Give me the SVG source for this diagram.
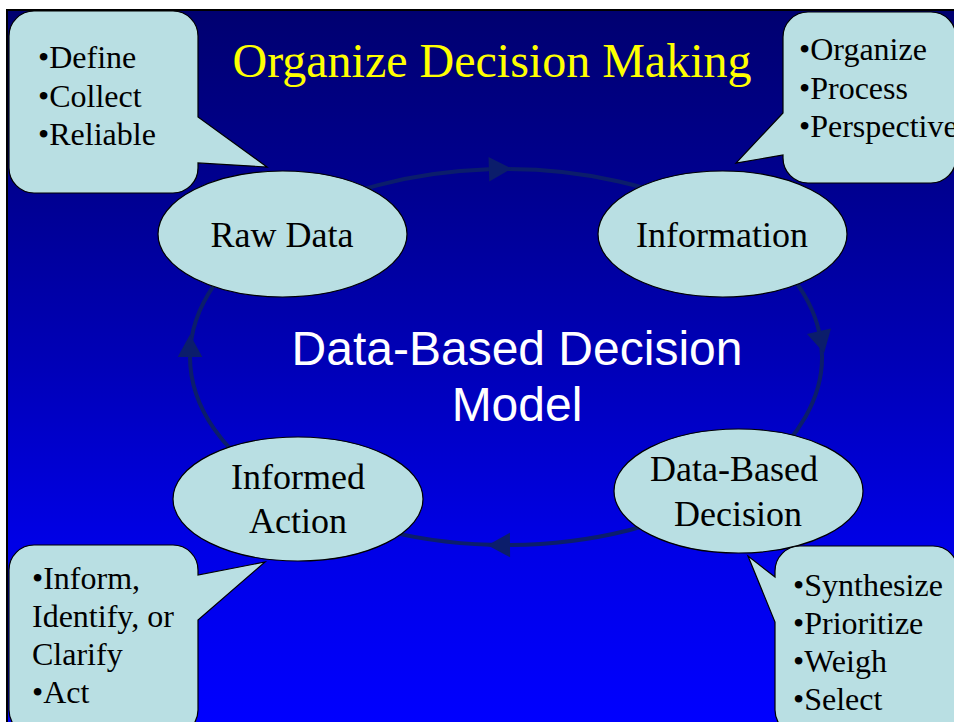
<svg xmlns="http://www.w3.org/2000/svg" width="954" height="722" viewBox="0 0 954 722">
<defs>
<linearGradient id="bg" x1="0" y1="10" x2="0" y2="722" gradientUnits="userSpaceOnUse">
<stop offset="0" stop-color="#000070"/>
<stop offset="0.25" stop-color="#000090"/>
<stop offset="0.5" stop-color="#0000b8"/>
<stop offset="0.75" stop-color="#0000e6"/>
<stop offset="1" stop-color="#0000ff"/>
</linearGradient>
<marker id="arr" markerUnits="userSpaceOnUse" markerWidth="30" markerHeight="30" viewBox="-2 -14 28 28" refX="0" refY="0" orient="auto">
<path d="M0,-11.5 L21,0 L0,11.5 Z" fill="#0b1d6b"/>
</marker>
<style>
.node{fill:#b9dfe3;stroke:#000;stroke-width:1.2}
.call{fill:#b9dfe3;stroke:#000;stroke-width:1.2}
.lbl{font-family:"Liberation Serif","Times New Roman",serif;font-size:36px;fill:#000;text-anchor:middle}
.bul{font-family:"Liberation Serif","Times New Roman",serif;font-size:32px;fill:#000}
.conn{fill:none;stroke:#0b1d6b;stroke-width:4;marker-mid:url(#arr)}
</style>
</defs>
<rect x="0" y="0" width="954" height="722" fill="#fff"/>
<rect x="7" y="10" width="960" height="730" fill="url(#bg)" stroke="#000" stroke-width="2"/>
<text x="492" y="77" font-family="Liberation Serif, Times New Roman, serif" font-size="48" fill="#ffff00" text-anchor="middle">Organize Decision Making</text>
<g id="connectors">
<path class="conn" d="M282.6,224.1 A316,188 0 0 1 488.9,169.3 A316,188 0 0 1 729.4,224.1"/>
<path class="conn" d="M729.4,224.1 A316,188 0 0 1 819,331.2 A316,188 0 0 1 729.4,489.9"/>
<path class="conn" d="M729.4,489.9 A316,188 0 0 1 510,545 A316,188 0 0 1 282.6,489.9"/>
<path class="conn" d="M282.6,489.9 A316,188 0 0 1 190,357 A316,188 0 0 1 282.6,224.1"/>
</g>
<g id="center-label">
<text x="517" y="365" font-family="Liberation Sans, Arial, sans-serif" font-size="48" fill="#fff" text-anchor="middle">Data-Based Decision</text>
<text x="517" y="421" font-family="Liberation Sans, Arial, sans-serif" font-size="48" fill="#fff" text-anchor="middle">Model</text>
</g>
<g id="raw-data">
<ellipse class="node" cx="282.5" cy="234" rx="124.5" ry="63"/>
<text class="lbl" x="282" y="247">Raw Data</text>
</g>
<g id="information">
<ellipse class="node" cx="722.5" cy="234" rx="124.5" ry="63"/>
<text class="lbl" x="722" y="247">Information</text>
</g>
<g id="data-based-decision">
<ellipse class="node" cx="738.5" cy="491" rx="124.5" ry="62"/>
<text class="lbl" x="734" y="481">Data-Based</text>
<text class="lbl" x="738" y="526">Decision</text>
</g>
<g id="informed-action">
<ellipse class="node" cx="298" cy="499" rx="125" ry="62"/>
<text class="lbl" x="298" y="489">Informed</text>
<text class="lbl" x="298" y="533">Action</text>
</g>
<g id="callout-raw-data">
<path class="call" d="M34,11 H173 A25,25 0 0 1 198,36 V117 L267,167 L198,163 V168 A25,25 0 0 1 173,193 H34 A25,25 0 0 1 9,168 V36 A25,25 0 0 1 34,11 Z"/>
<text class="bul" x="38" y="68">•Define</text>
<text class="bul" x="38" y="107">•Collect</text>
<text class="bul" x="38" y="145">•Reliable</text>
</g>
<g id="callout-information">
<path class="call" d="M808,12 H931 A25,25 0 0 1 956,37 V158 A25,25 0 0 1 931,183 H808 A25,25 0 0 1 783,158 V155 L736,163 L783,113 V37 A25,25 0 0 1 808,12 Z"/>
<text class="bul" x="799" y="60">•Organize</text>
<text class="bul" x="799" y="99">•Process</text>
<text class="bul" x="799" y="137">•Perspective</text>
</g>
<g id="callout-informed-action">
<path class="call" d="M34,545 H173 A25,25 0 0 1 198,570 V575 L265,562 L198,620 V710 A25,25 0 0 1 173,735 H34 A25,25 0 0 1 9,710 V570 A25,25 0 0 1 34,545 Z"/>
<text class="bul" x="32" y="589">•Inform,</text>
<text class="bul" x="32" y="627">Identify, or</text>
<text class="bul" x="32" y="665">Clarify</text>
<text class="bul" x="32" y="703">•Act</text>
</g>
<g id="callout-decision">
<path class="call" d="M800,546 H933 A25,25 0 0 1 958,571 V710 A25,25 0 0 1 933,735 H800 A25,25 0 0 1 775,710 V622 L748,556 L775,577 V571 A25,25 0 0 1 800,546 Z"/>
<text class="bul" x="793" y="596">•Synthesize</text>
<text class="bul" x="793" y="634">•Prioritize</text>
<text class="bul" x="793" y="672">•Weigh</text>
<text class="bul" x="793" y="710">•Select</text>
</g>
</svg>
